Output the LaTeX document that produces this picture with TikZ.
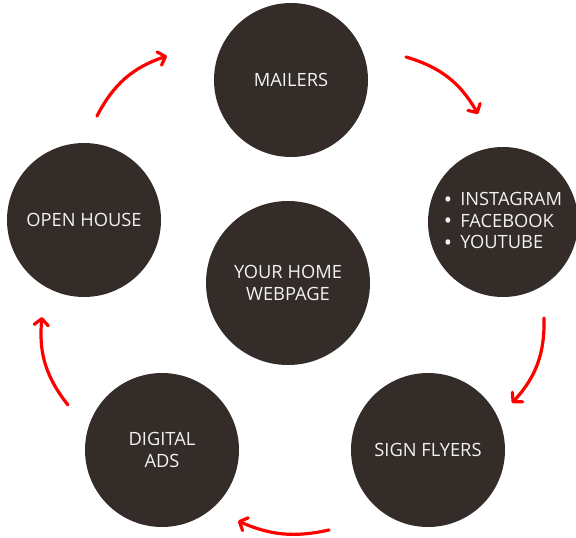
\documentclass[tikz,border=0pt]{standalone}
\usepackage{fontspec}
\setmainfont{Open Sans}
\usetikzlibrary{arrows.meta}
\definecolor{disc}{HTML}{332C28}
\definecolor{txt}{HTML}{F2F2F2}
\definecolor{arr}{HTML}{FF0000}
\newcommand{\bigbul}{\smash{\raisebox{-1.2pt}{\fontsize{22}{22}\selectfont\textbullet}}}
\begin{document}
\begin{tikzpicture}[x=1pt,y=-1pt,
  disc/.style={circle,fill=disc,draw=none,text=txt,align=center,inner sep=0pt,
    font=\fontsize{18.3}{22}\selectfont},
  cyc/.style={draw=arr,line width=3.2pt,line cap=round,
    -{Straight Barb[length=6.5pt,width=14pt,line cap=round,line join=round]},bend left=22}]
\useasboundingbox (0,0) rectangle (576,538);
\node[disc,minimum size=154pt] (mail) at (291,80) {MAILERS};
\node[disc,minimum size=150pt] (social) at (503,222) {};
\node[text=txt,font=\fontsize{18.3}{22}\selectfont,inner sep=0pt,anchor=center] (list) at (503,223) {\begin{tabular}{@{}l@{\hspace{8pt}}l@{}}\bigbul & INSTAGRAM\\[-0.5pt] \bigbul & FACEBOOK\\[-0.5pt] \bigbul & YOUTUBE\end{tabular}};
\node[disc,minimum size=154pt] (open) at (84,220) {OPEN HOUSE};
\node[disc,minimum size=164pt] (home) at (288,283) {YOUR HOME\\WEBPAGE};
\node[disc,minimum size=154pt] (ads) at (162,450) {DIGITAL\\ADS};
\node[disc,minimum size=154pt] (sign) at (428,450) {SIGN FLYERS};
\coordinate (a1s) at (97,116);  \coordinate (a1e) at (167,56);
\coordinate (a2s) at (406,57);  \coordinate (a2e) at (478,114);
\coordinate (a3s) at (544,318); \coordinate (a3e) at (512,403);
\coordinate (a4s) at (329,530); \coordinate (a4e) at (238,521);
\coordinate (a5s) at (68,405);  \coordinate (a5e) at (42,317);
\draw[cyc] (a1s) to (a1e);
\draw[cyc] (a2s) to (a2e);
\draw[cyc] (a3s) to (a3e);
\draw[cyc,bend left=18] (a4s) to (a4e);
\draw[cyc] (a5s) to (a5e);
\end{tikzpicture}
\end{document}
